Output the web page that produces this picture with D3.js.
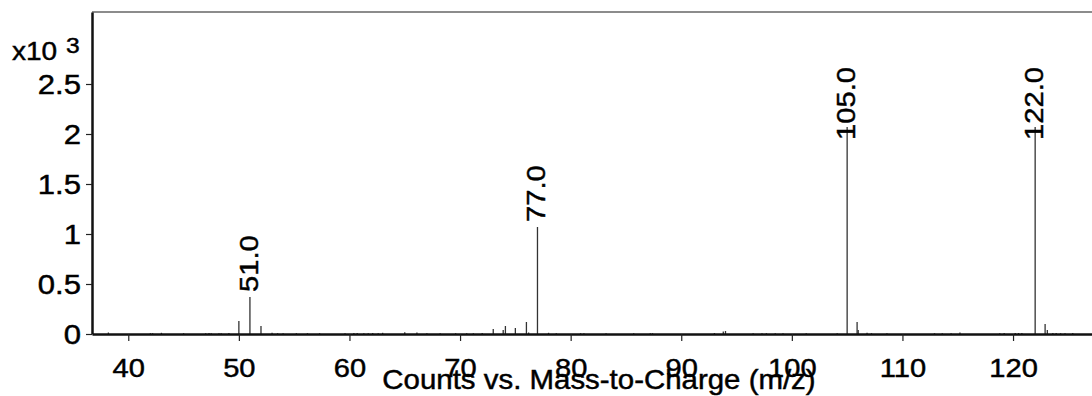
<!DOCTYPE html>
<html>
<head>
<meta charset="utf-8">
<script src="https://cdn.jsdelivr.net/npm/d3@7/dist/d3.min.js"></script>
<style>
  html, body { margin: 0; padding: 0; background: #fff; }
  svg { display: block; font-family: "Liberation Sans", Arial, sans-serif; }
  svg text { fill: #000; stroke: #000; stroke-width: 0.45px; }
</style>
</head>
<body>
<svg id="chart" width="1092" height="396"></svg>
<script>
// Mass spectrum: m/z values and their ion counts
const mzValues = [
  38.2, 42.0, 42.2, 43.0, 45.0, 47.0, 47.3, 47.5, 48.2, 48.4, 49.1,
  50.0, 51.0, 52.0, 53.0, 53.5, 54.0, 55.2, 56.2, 57.3, 59.6, 60.4, 60.7,
  61.3, 61.7, 62.1, 62.6, 63.0, 65.0, 66.1, 67.0, 68.2, 69.6, 70.6, 71.2,
  72.0, 73.0, 73.9, 74.1, 75.0, 76.0, 76.2, 77.0, 78.0, 78.7, 80.9, 81.2,
  83.2, 85.7, 87.2, 87.4, 93.0, 93.8, 94.0, 96.5, 97.3, 97.7, 98.5, 99.2,
  101.3, 104.1, 105.0, 105.9, 106.0, 106.8, 107.2, 108.6, 112.9, 113.6,
  114.4, 115.2, 118.8, 119.2, 120.2, 120.5, 120.8, 122.0, 122.9, 123.1,
  123.6, 123.9, 124.3, 124.7, 125.4
];
const countValues = [
  15, 8, 8, 12, 8, 8, 10, 8, 8, 8, 10,
  130, 370, 80, 12, 8, 8, 8, 8, 8, 8, 10, 10,
  8, 8, 10, 8, 12, 18, 15, 8, 8, 8, 8, 8,
  10, 50, 40, 80, 60, 120, 15, 1070, 12, 8, 8, 8,
  8, 8, 8, 8, 10, 25, 30, 8, 8, 8, 8, 8,
  8, 8, 2070, 120, 40, 12, 8, 8, 8, 8,
  8, 15, 8, 10, 10, 10, 10, 2070, 100, 40,
  10, 10, 8, 8, 10
];
const labeledMz = [51.0, 77.0, 105.0, 122.0];

const xTickValues = [40, 50, 60, 70, 80, 90, 100, 110, 120];
const yTickValues = [0, 500, 1000, 1500, 2000, 2500];
const yTickLabels = ["0", "0.5", "1", "1.5", "2", "2.5"];

const xTitle = "Counts vs. Mass-to-Charge (m/z)";

const peaks = mzValues.map((m, i) => ({ mz: m, count: countValues[i] }));

const svg = d3.select("#chart");
const W = 1092;
const plotLeft = 92, plotTop = 12, plotBottom = 334;
const stretch = 1.12;   // wide glyphs

const x = d3.scaleLinear().domain([36.72, 127.14]).range([plotLeft, W]);
const y = d3.scaleLinear().domain([0, 3220]).range([plotBottom, plotTop]);

// clip peaks to the plot region
svg.append("defs").append("clipPath").attr("id", "plotClip")
  .append("rect").attr("x", plotLeft).attr("y", plotTop)
  .attr("width", W - plotLeft).attr("height", plotBottom - plotTop);

// top frame line
svg.append("line")
  .attr("x1", plotLeft).attr("x2", W).attr("y1", plotTop).attr("y2", plotTop)
  .attr("stroke", "#666").attr("stroke-width", 1.5);

// peak sticks
svg.append("g").attr("clip-path", "url(#plotClip)")
  .selectAll("line").data(peaks).join("line")
  .attr("x1", d => x(d.mz)).attr("x2", d => x(d.mz))
  .attr("y1", y(0)).attr("y2", d => y(d.count))
  .attr("stroke", "#333").attr("stroke-width", 1.3);

// x axis
const xAxis = svg.append("g").attr("transform", `translate(0,${plotBottom})`)
  .call(d3.axisBottom(x).tickValues(xTickValues).tickFormat(d3.format("d")).tickSize(7).tickSizeOuter(0));
xAxis.select(".domain").attr("stroke", "#111").attr("stroke-width", 2.5);
xAxis.selectAll(".tick line").attr("stroke", "#222").attr("stroke-width", 1.2);
xAxis.selectAll(".tick text")
  .attr("y", 0).attr("dy", 0)
  .attr("transform", `translate(0,43) scale(${stretch},1)`)
  .attr("font-size", 26);

// y axis
const yAxis = svg.append("g").attr("transform", `translate(${plotLeft},0)`)
  .call(d3.axisLeft(y).tickValues(yTickValues).tickFormat((d, i) => yTickLabels[i]).tickSize(6).tickSizeOuter(0));
yAxis.select(".domain").attr("stroke", "#111").attr("stroke-width", 2.5);
yAxis.selectAll(".tick line").attr("stroke", "#222").attr("stroke-width", 1.2);
yAxis.selectAll(".tick text")
  .attr("x", 0).attr("dy", "0.36em")
  .attr("transform", `translate(-11,0) scale(1.15,1)`)
  .attr("font-size", 27);

// exponent marker
svg.append("text").attr("transform", `translate(12,60) scale(${stretch},1)`)
  .attr("font-size", 25).text("x10");
svg.append("text").attr("transform", `translate(66,53) scale(${stretch},1)`)
  .attr("font-size", 22).text("3");

// axis title
svg.append("text")
  .attr("transform", `translate(599,389) scale(1.09,1)`)
  .attr("text-anchor", "middle").attr("font-size", 27)
  .text(xTitle);

// peak labels, rotated; kept below a top limit
const labelTopLimit = 67;
const labelData = peaks.filter(p => labeledMz.includes(p.mz));
svg.selectAll("text.peak-label").data(labelData).join("text")
  .attr("class", "peak-label")
  .attr("font-size", 26)
  .text(d => d.mz.toFixed(1))
  .each(function (d) {
    const len = this.getComputedTextLength() * stretch;
    const start = Math.max(y(d.count) - 5, labelTopLimit + len);
    d3.select(this).attr("transform",
      `translate(${x(d.mz) + 8},${start}) rotate(-90) scale(${stretch},1)`);
  });
</script>
</body>
</html>
